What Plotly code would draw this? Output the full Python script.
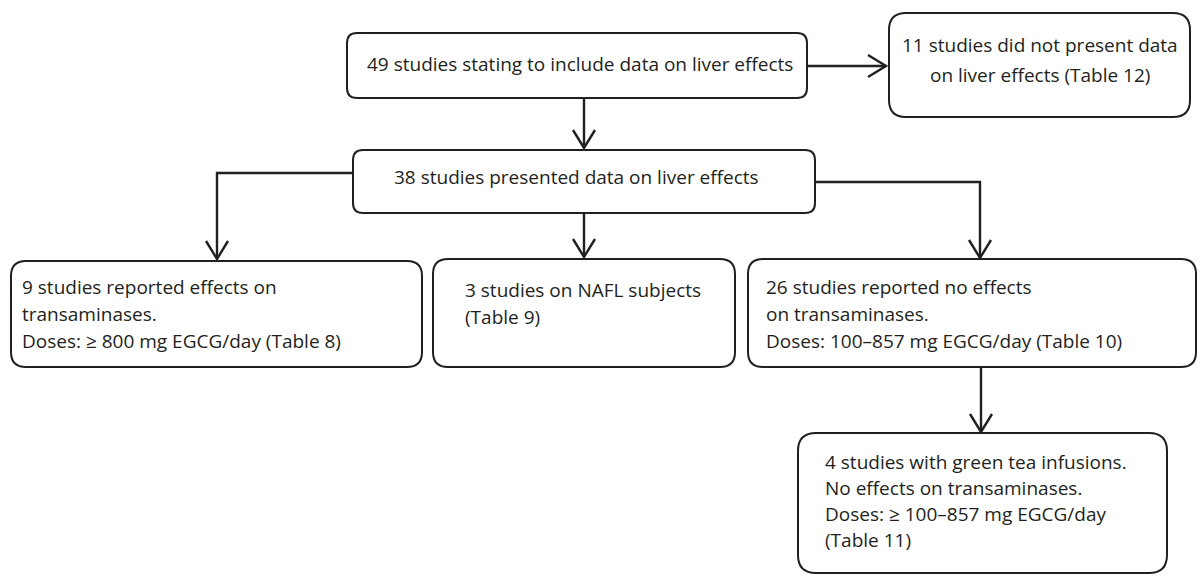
import plotly.graph_objects as go

# ---- content (box texts) ----
box_texts = [
    ["49 studies stating to include data on liver effects"],
    ["11 studies did not present data", "on liver effects (Table 12)"],
    ["38 studies presented data on liver effects"],
    ["9 studies reported effects on", "transaminases.", "Doses: \u2265 800 mg EGCG/day (Table 8)"],
    ["3 studies on NAFL subjects", "(Table 9)"],
    ["26 studies reported no effects", "on transaminases.", "Doses: 100\u2013857 mg EGCG/day (Table 10)"],
    ["4 studies with green tea infusions.", "No effects on transaminases.",
     "Doses: \u2265 100\u2013857 mg EGCG/day", "(Table 11)"],
]

# ---- layout geometry (pixels, y downward) ----
box_rects = [  # x0, x1, y0, y1, corner radius
    (347, 807, 33, 98, 10),
    (889, 1190, 13, 117, 17),
    (353, 815, 150, 213, 10),
    (11, 422, 261, 367, 15),
    (433, 735, 259, 367, 15),
    (748, 1196, 259, 367, 15),
    (798, 1167, 433, 573, 18),
]
text_pos = [  # x, anchor, first line y, line spacing
    (580, "center", 64, 0),
    (1040, "center", 45, 30),
    (392, "left", 177, 0),
    (20, "left", 287, 27),
    (463, "left", 290, 27),
    (764, "left", 287, 27),
    (823, "left", 462, 26),
]
# connectors: polyline points, arrow at last point
connectors = [
    [(807, 66), (886, 66)],
    [(584, 98), (584, 148)],
    [(353, 173), (217, 173), (217, 259)],
    [(584, 213), (584, 257)],
    [(815, 182), (980, 182), (980, 258)],
    [(981, 367), (981, 432)],
]

INK = "#231f20"
FONT = "Open Sans"
FS = 19

fig = go.Figure()
shapes = []
annotations = []


def rounded_path(x0, x1, y0, y1, r):
    return (f"M {x0 + r},{y0} L {x1 - r},{y0} Q {x1},{y0} {x1},{y0 + r} "
            f"L {x1},{y1 - r} Q {x1},{y1} {x1 - r},{y1} "
            f"L {x0 + r},{y1} Q {x0},{y1} {x0},{y1 - r} "
            f"L {x0},{y0 + r} Q {x0},{y0} {x0 + r},{y0} Z")


for (x0, x1, y0, y1, r) in box_rects:
    shapes.append(dict(type="path", xref="x", yref="y",
                       path=rounded_path(x0, x1, y0, y1, r),
                       line=dict(color=INK, width=2), fillcolor="white", layer="above"))

for pts in connectors:
    xs = [p[0] for p in pts]
    ys = [p[1] for p in pts]
    fig.add_trace(go.Scatter(x=xs, y=ys, mode="lines",
                             line=dict(color=INK, width=2.4), hoverinfo="skip",
                             showlegend=False))
    (xa, ya), (xb, yb) = pts[-2], pts[-1]
    L, W = 18, 11
    if xa == xb:  # vertical, downward
        hx = [xb - W, xb, xb + W]
        hy = [yb - L, yb, yb - L]
    else:  # horizontal, rightward
        hx = [xb - L, xb, xb - L]
        hy = [yb - W, yb, yb + W]
    fig.add_trace(go.Scatter(x=hx, y=hy, mode="lines",
                             line=dict(color=INK, width=2.4), hoverinfo="skip",
                             showlegend=False))

for lines, (tx, anchor, ty, dy) in zip(box_texts, text_pos):
    for i, ln in enumerate(lines):
        annotations.append(dict(x=tx, y=ty + i * dy, xref="x", yref="y",
                                text=ln, showarrow=False, xanchor=anchor,
                                yanchor="middle", align=anchor,
                                font=dict(family=FONT, size=FS, color=INK)))

fig.update_layout(
    width=1201, height=576,
    margin=dict(l=0, r=0, t=0, b=0),
    paper_bgcolor="white", plot_bgcolor="white",
    xaxis=dict(range=[0, 1201], visible=False, fixedrange=True),
    yaxis=dict(range=[576, 0], visible=False, fixedrange=True),
    shapes=shapes, annotations=annotations, showlegend=False,
)

fig.write_html(
    "out.html",
    config={"displayModeBar": False},
    post_script="document.body.style.margin='0';document.body.style.overflow='hidden';",
)
